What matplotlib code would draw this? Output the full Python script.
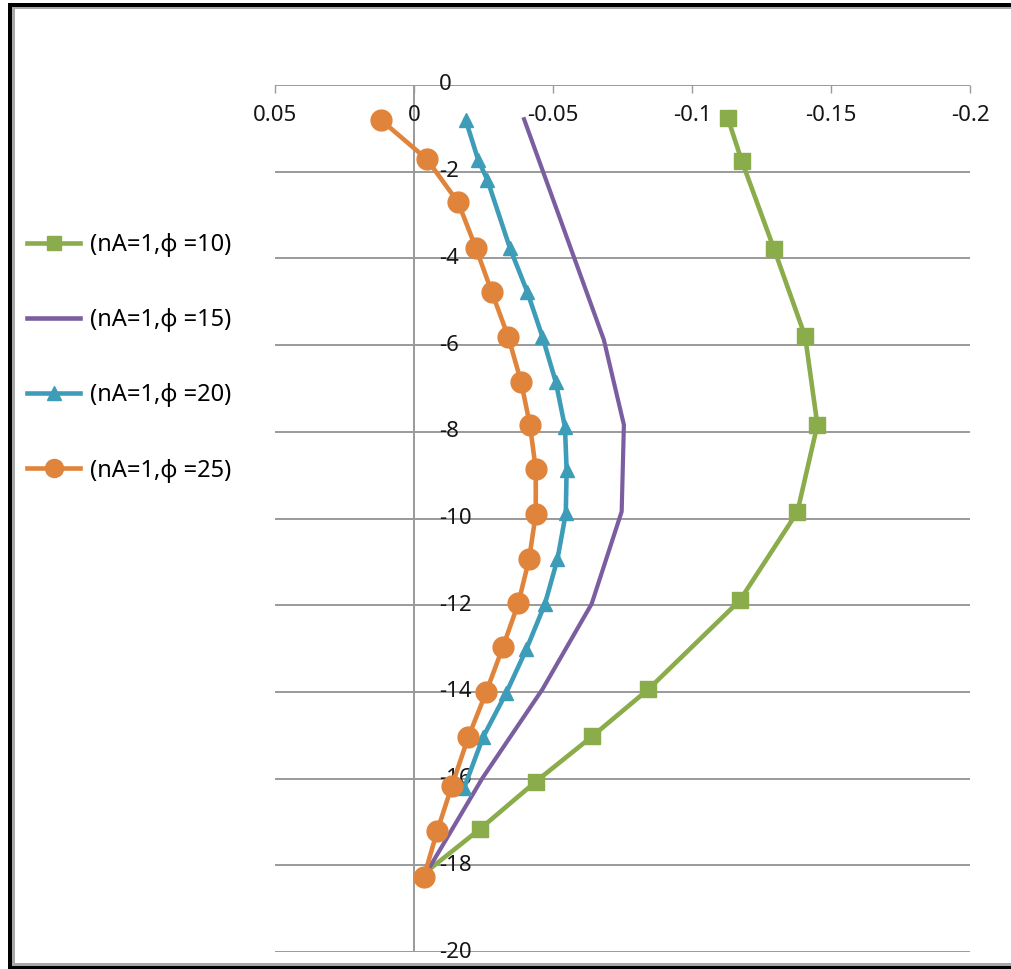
import matplotlib
matplotlib.use("Agg")
import matplotlib.pyplot as plt
from matplotlib.patches import Rectangle
from matplotlib.lines import Line2D

plt.rcParams['font.family'] = ['Noto Sans', 'DejaVu Sans']

# Series: horizontal displacement (x) versus depth (y)
labels = ["(nA=1,\u03d5 =10)", "(nA=1,\u03d5 =15)", "(nA=1,\u03d5 =20)", "(nA=1,\u03d5 =25)"]

depth_10 = [-0.75, -1.75, -3.78, -5.8, -7.84, -9.85, -11.89, -13.94, -15.02, -16.07, -17.17, -18.1]
disp_10 = [-0.1128, -0.1179, -0.1295, -0.1407, -0.1451, -0.1379, -0.1172, -0.0843, -0.0642, -0.0438, -0.0236, -0.0054]

depth_15 = [-0.79, -5.88, -7.84, -9.84, -11.97, -13.94, -16.0, -18.07]
disp_15 = [-0.0396, -0.0683, -0.0755, -0.0747, -0.0639, -0.0462, -0.0245, -0.0054]

depth_20 = [-0.81, -1.73, -2.19, -3.76, -4.78, -5.81, -6.85, -7.89, -8.88, -9.88,
            -10.94, -11.97, -13.02, -14.02, -15.05, -16.22]
disp_20 = [-0.0186, -0.0231, -0.0264, -0.0345, -0.0408, -0.0462, -0.051, -0.0543, -0.0549, -0.0546,
           -0.0516, -0.0471, -0.0404, -0.0332, -0.0248, -0.018]

depth_25 = [-0.8, -1.71, -2.71, -3.75, -4.78, -5.81, -6.84, -7.84, -8.86, -9.9,
            -10.94, -11.96, -12.96, -14.0, -15.05, -16.17, -17.22, -18.28]
disp_25 = [0.012, -0.0046, -0.0159, -0.0222, -0.028, -0.0339, -0.0385, -0.0417, -0.0438, -0.0438,
           -0.0414, -0.0375, -0.032, -0.026, -0.0195, -0.0136, -0.0083, -0.0035]

x_ticks = [0.05, 0, -0.05, -0.1, -0.15, -0.2]
x_tick_labels = ["0.05", "0", "-0.05", "-0.1", "-0.15", "-0.2"]
y_ticks = [0, -2, -4, -6, -8, -10, -12, -14, -16, -18, -20]
y_tick_labels = ["0", "-2", "-4", "-6", "-8", "-10", "-12", "-14", "-16", "-18", "-20"]

c_green = "#8AAC4A"
c_purple = "#7B5EA0"
c_teal = "#3D9DB8"
c_orange = "#E0843C"
grid_c = "#9A9A9A"

W, H = 1011, 969
fig = plt.figure(figsize=(W / 100, H / 100), dpi=100)
ax = fig.add_axes([275 / W, 1 - 952 / H, (970 - 275) / W, (952 - 85) / H])

ax.set_xlim(0.05, -0.2)
ax.set_ylim(-20, 0)
for s in ax.spines.values():
    s.set_visible(False)

# horizontal gridlines and vertical axis at x = 0
for yv in y_ticks:
    ax.axhline(yv, color=grid_c, lw=1.4, zorder=1)
ax.axvline(0, color=grid_c, lw=1.4, zorder=1)

# tick marks hanging below the top axis line
ax.set_xticks(x_ticks)
ax.xaxis.set_ticks_position('top')
ax.tick_params(axis='x', direction='in', length=5.5, width=1.0, color=grid_c,
               labeltop=False, labelbottom=False)
ax.set_yticks([])

fs = 16
for xv, lab in zip(x_ticks, x_tick_labels):
    ax.annotate(lab, xy=(xv, 0), xycoords='data', xytext=(0, -22), textcoords='offset points',
                ha='center', va='center', fontsize=fs, color='#151515')
for yv, lab in zip(y_ticks, y_tick_labels):
    ax.annotate(lab, xy=(0, yv), xycoords='data', xytext=(18, 0), textcoords='offset points',
                ha='left', va='center', fontsize=fs, color='#151515')

# the toe point of the phi=10 curve carries no visible marker
ax.plot(disp_10, depth_10, color=c_green, lw=3.3, marker='s', ms=11, zorder=3,
        markevery=slice(0, len(disp_10) - 1))
ax.plot(disp_15, depth_15, color=c_purple, lw=3.0, zorder=3)
ax.plot(disp_20, depth_20, color=c_teal, lw=3.3, marker='^', ms=10, zorder=3)
ax.plot(disp_25, depth_25, color=c_orange, lw=3.3, marker='o', ms=15, zorder=4)

handles = [
    Line2D([], [], color=c_green, lw=3.3, marker='s', ms=10),
    Line2D([], [], color=c_purple, lw=3.3),
    Line2D([], [], color=c_teal, lw=3.3, marker='^', ms=10),
    Line2D([], [], color=c_orange, lw=3.3, marker='o', ms=13),
]
lfs = 17
fig.legend(handles, labels, loc='upper left', bbox_to_anchor=(27 / W, 1 - 233 / H),
           frameon=False, fontsize=lfs, handlelength=2.25, handletextpad=0.42,
           labelspacing=2.17, borderaxespad=0, borderpad=0)

# picture frame
def px_rect(x0, y0, x1, y1, color):
    fig.patches.append(Rectangle((x0 / W, 1 - y1 / H), (x1 - x0) / W, (y1 - y0) / H,
                                 transform=fig.transFigure, color=color, lw=0, zorder=10))

px_rect(8, 3, W, 7, 'black')
px_rect(12, 7, W, 9, '#A8A8A8')
px_rect(8, 3, 12, H, 'black')
px_rect(12, 7, 15, 963, '#A8A8A8')
px_rect(12, 963, W, 966, '#A8A8A8')
px_rect(8, 966, W, H, 'black')

fig.savefig("out.png", dpi=100)
